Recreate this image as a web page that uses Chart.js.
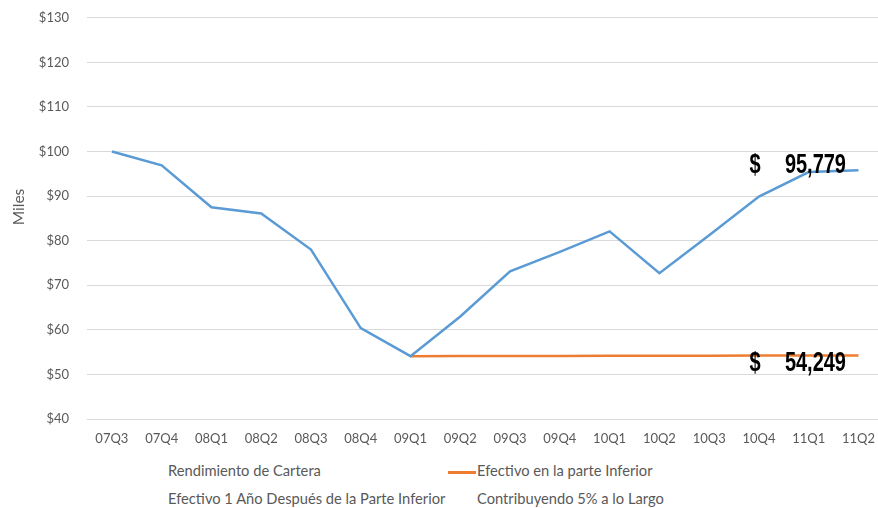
<!DOCTYPE html>
<html>
<head>
<meta charset="utf-8">
<script src="https://cdn.jsdelivr.net/npm/chart.js@4"></script>
<style>
    html, body { margin: 0; padding: 0; background: #fff; overflow: hidden; }
    #wrap { position: relative; width: 878px; height: 508px; overflow: hidden; }
    #chart { position: absolute; left: 0; top: -8px; }
    .leg { position: absolute; font-family: Lato, "Open Sans", sans-serif; font-size: 14.7px; color: #595959; white-space: nowrap; line-height: 18px; }
    .leg .mk { display: inline-block; width: 28px; height: 3px; vertical-align: middle; margin-right: 1px; }
</style>
</head>
<body>
<div id="wrap">
    <canvas id="chart" width="887" height="463"></canvas>
    <div class="leg" style="left:168px; top:461px;">Rendimiento de Cartera</div>
    <div class="leg" style="left:448px; top:461px;"><span class="mk" style="background:#ED7D31"></span>Efectivo en la parte Inferior</div>
    <div class="leg" style="left:168px; top:489px;">Efectivo 1 Año Después de la Parte Inferior</div>
    <div class="leg" style="left:477px; top:489px;">Contribuyendo 5% a lo Largo</div>
</div>
<script>
let quarters = ["07Q3", "07Q4", "08Q1", "08Q2", "08Q3", "08Q4", "09Q1", "09Q2",
                "09Q3", "09Q4", "10Q1", "10Q2", "10Q3", "10Q4", "11Q1", "11Q2"];

// valores en miles de dólares
let cartera = [100, 96.9, 87.5, 86.1, 78.0, 60.4, 54.1, 63.0,
               73.1, 77.5, 82.1, 72.7, 81.2, 89.9, 95.4, 95.779];

let efectivoInferior = [null, null, null, null, null, null, 54.1, 54.12,
                        54.14, 54.16, 54.18, 54.2, 54.21, 54.23, 54.24, 54.249];

let yTicks = [40, 50, 60, 70, 80, 90, 100, 110, 120, 130];

let endLabels = ["95,779", "54,249"];

const endLabelPlugin = {
    id: "endLabels",
    afterDatasetsDraw(chart) {
        let ctx = chart.ctx;
        let x = chart.scales.x;
        let y = chart.scales.y;
        let last = quarters.length - 1;
        let px = x.getPixelForValue(last);
        let rows = [
            { text: endLabels[0], base: y.getPixelForValue(cartera[last]) + 3 },
            { text: endLabels[1], base: y.getPixelForValue(efectivoInferior[last]) + 16 }
        ];

        ctx.save();
        ctx.fillStyle = "#000";
        ctx.textBaseline = "alphabetic";
        ctx.font = "bold 27px 'Liberation Sans', Arial, sans-serif";
        rows.forEach(function(r) {
            // fuente estrecha: se comprime en horizontal
            ctx.save();
            ctx.translate(px - 109, r.base);
            ctx.scale(0.74, 1);
            ctx.textAlign = "left";
            ctx.fillText("$", 0, 0);
            ctx.restore();

            ctx.save();
            ctx.translate(px - 12.5, r.base);
            ctx.scale(0.74, 1);
            ctx.textAlign = "right";
            ctx.fillText(r.text, 0, 0);
            ctx.restore();
        });

        // título del eje
        ctx.fillStyle = "#595959";
        ctx.font = "15.5px Lato, sans-serif";
        ctx.textAlign = "center";
        ctx.textBaseline = "middle";
        ctx.translate(18.5, 215);
        ctx.rotate(-Math.PI / 2);
        ctx.fillText("Miles", 0, 0);
        ctx.restore();
    }
};

let ctx = document.getElementById("chart").getContext("2d");

let chart = new Chart(ctx, {
    type: "line",
    data: {
        labels: quarters,
        datasets: [
            {
                label: "Rendimiento de Cartera",
                data: cartera,
                borderColor: "#5B9BD5",
                borderWidth: 2.5,
                pointRadius: 0,
                tension: 0
            },
            {
                label: "Efectivo en la parte Inferior",
                data: efectivoInferior,
                borderColor: "#ED7D31",
                borderWidth: 2.5,
                pointRadius: 0,
                tension: 0
            }
        ]
    },
    options: {
        responsive: false,
        animation: false,
        layout: { padding: { top: 9, right: 0, left: 0, bottom: 0 } },
        plugins: {
            legend: { display: false },
            tooltip: { enabled: false }
        },
        scales: {
            x: {
                offset: true,
                grid: { display: false, drawTicks: false },
                border: { display: false },
                ticks: {
                    color: "#595959",
                    font: { family: "Lato", size: 13 },
                    padding: 12,
                    maxRotation: 0,
                    autoSkip: false
                },
                afterFit(scale) { scale.height = 36; }
            },
            y: {
                min: 40,
                max: 130,
                afterBuildTicks(scale) {
                    scale.ticks = yTicks.map(v => ({ value: v }));
                },
                grid: { color: "#D9D9D9", lineWidth: 1, drawTicks: false },
                border: { display: false },
                ticks: {
                    color: "#595959",
                    font: { family: "Lato", size: 13 },
                    padding: 18,
                    callback: v => "$" + v
                },
                afterFit(scale) { scale.width = 87; }
            }
        }
    },
    plugins: [endLabelPlugin]
});
</script>
</body>
</html>
